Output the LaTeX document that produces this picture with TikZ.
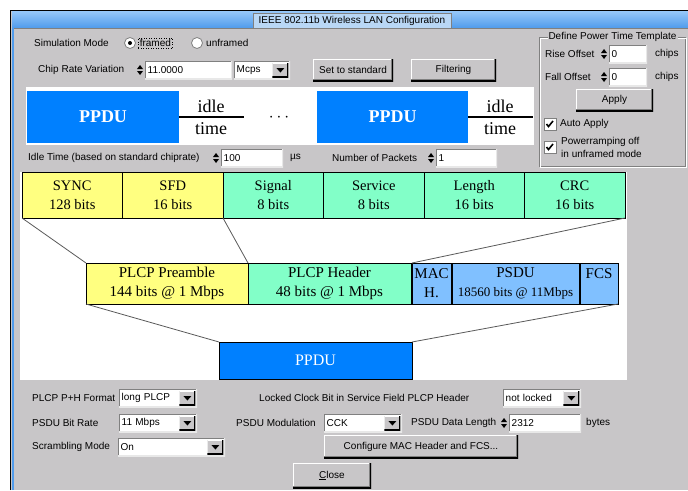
\documentclass[tikz,border=0pt]{standalone}
\usepackage{fontspec}
\setmainfont{Liberation Serif}
\setsansfont{Liberation Sans}
\usepackage{tikz}
\usetikzlibrary{calc}

\definecolor{wingray}{RGB}{200,198,200}
\definecolor{wdark}{RGB}{128,128,128}
\definecolor{wlight}{RGB}{232,232,232}
\definecolor{titletop}{RGB}{150,200,250}
\definecolor{titlebot}{RGB}{80,155,235}
\definecolor{titlebox}{RGB}{185,215,245}
\definecolor{ppdublue}{RGB}{0,128,255}
\definecolor{yell}{RGB}{255,255,128}
\definecolor{mint}{RGB}{130,255,200}
\definecolor{lblue}{RGB}{128,192,255}
\definecolor{linegray}{RGB}{90,90,90}

\newcommand{\guifont}{\sffamily\fontsize{10}{12}\selectfont}

\tikzset{
  lbl/.style={font=\guifont, inner sep=0pt, anchor=west},
  field/.style={font=\guifont, fill=white, anchor=west, align=left, inner xsep=2.5pt, inner ysep=0pt, minimum height=18pt,
    path picture={
      \draw[wdark, line width=2pt] (path picture bounding box.south west) |- (path picture bounding box.north east);
      \draw[wlight, line width=2pt] (path picture bounding box.south west) -| (path picture bounding box.north east);}},
  button/.style={font=\guifont, fill=wingray, inner sep=0pt,
    path picture={
      \draw[white, line width=2.4pt] (path picture bounding box.south west) |- (path picture bounding box.north east);
      \draw[wdark, line width=4pt] (path picture bounding box.south west) -| (path picture bounding box.north east);
      \draw[black, line width=2pt] (path picture bounding box.south west) -| (path picture bounding box.north east);}},
  arrbtn/.style={fill=wingray, minimum width=16pt, minimum height=14pt, inner sep=0pt,
    path picture={
      \draw[white, line width=2pt] (path picture bounding box.south west) |- (path picture bounding box.north east);
      \draw[black, line width=2pt] (path picture bounding box.south west) -| (path picture bounding box.north east);
      \fill[black] (path picture bounding box.center) ++(-4pt,2pt) -- ++(8pt,0pt) -- ++(-4pt,-4.5pt) -- cycle;}},
  spin/.style={fill=wingray, minimum width=8pt, minimum height=17pt, inner sep=0pt,
    path picture={
      \fill[black] (path picture bounding box.center) ++(-3pt,1pt) -- ++(6pt,0pt) -- ++(-3pt,4pt) -- cycle;
      \fill[black] (path picture bounding box.center) ++(-3pt,-1pt) -- ++(6pt,0pt) -- ++(-3pt,-4pt) -- cycle;}},
  radio/.style={circle, fill=white, draw=wdark, line width=0.8pt, minimum size=11pt, inner sep=0pt},
  radioon/.style={radio, path picture={\fill[black] (path picture bounding box.center) circle (2pt);}},
  chk/.style={fill=white, draw=wdark, line width=0.8pt, minimum size=12pt, inner sep=0pt,
    path picture={\draw[black, line width=1.6pt] (path picture bounding box.center) ++(-3.5pt,0pt) -- ++(2pt,-2.5pt) -- ++(4.5pt,5.5pt);}},
  bitbox/.style={draw=black, line width=0.8pt, inner sep=0pt, outer sep=0pt, align=center, font=\fontsize{14.5}{19}\selectfont},
  bitrow/.style={bitbox, minimum width=100.5pt, minimum height=46pt},
  plcprow/.style={bitbox, minimum height=41pt, font=\fontsize{15}{19}\selectfont},
  link/.style={draw=linegray, line width=0.8pt}
}

\begin{document}
\begin{tikzpicture}[x=1pt,y=-1pt]
\useasboundingbox (0,0) rectangle (688,490);
\fill[white] (0,0) rectangle (688,490);
\fill[wingray] (10,10) rectangle (688,490);
\shade[top color=titletop, bottom color=titlebot] (12,11) rectangle (688,28);
\draw[black, line width=1pt] (10.5,490) -- (10.5,10.5) -- (688,10.5);
\draw[titlebot, line width=2pt] (12.5,490) -- (12.5,28);
\draw[wdark, line width=0.8pt] (14,28.5) -- (688,28.5);
\node[font=\guifont, fill=titlebox, draw=wdark, line width=0.5pt, minimum width=198pt, minimum height=15pt, inner sep=0pt] (title) at (352,20.5) {IEEE 802.11b Wireless LAN Configuration};

\node[lbl] (simmode) at (34,43) {Simulation Mode};
\node[radioon] (radfr) at (130,43) {};
\node[lbl, draw, dotted, line width=0.5pt, inner sep=1.5pt] (framed) at (138,43) {framed};
\node[radio] (radunfr) at (197,43) {};
\node[lbl] (unframed) at (206,43) {unframed};

\node[lbl] (chiplbl) at (38,70) {Chip Rate Variation};
\node[spin] (chipspin) at (140,70) {};
\node[field, text width=82pt] (chip) at (145,70) {11.0000};
\node[field, text width=51pt] (mcps) at (234,70) {Mcps};
\node[arrbtn] (mcpsarr) at ([xshift=-10pt]mcps.east) {};
\node[button, minimum width=80pt, minimum height=22pt] (setstd) at (353,70) {Set to standard};
\node[button, minimum width=85pt, minimum height=22pt] (filter) at (453.5,70) {Filtering};

\draw[wdark] (539,37) rectangle (685,166);
\draw[white] (540,38) rectangle (686,167);
\node[font=\guifont, fill=wingray, inner xsep=1pt, inner ysep=0pt] (pttlbl) at (612.5,37) {Define Power Time Template};
\node[lbl] (riselbl) at (545,54) {Rise Offset};
\node[spin] (risespin) at (604,54) {};
\node[field, text width=33pt] (rise) at (609,54) {0};
\node[lbl] (risechips) at (655,54) {chips};
\node[lbl] (falllbl) at (545,77) {Fall Offset};
\node[spin] (fallspin) at (604,77) {};
\node[field, text width=33pt] (fall) at (609,77) {0};
\node[lbl] (fallchips) at (655,77) {chips};
\node[button, minimum width=77pt, minimum height=22pt] (apply) at (614.5,100) {Apply};
\node[chk] (autochk) at (550,124) {};
\node[lbl] (autoapply) at (560,124) {Auto Apply};
\node[chk] (rampchk) at (550,147) {};
\node[lbl, align=left, font=\sffamily\fontsize{10}{13}\selectfont] (ramp) at (561,147) {Powerramping off\\in unframed mode};

\fill[white] (26,87) rectangle (534,145);
\node[fill=ppdublue, minimum width=152pt, minimum height=52pt, text=white, font=\bfseries\fontsize{18}{20}\selectfont] (ppdua) at (103,117) {PPDU};
\node[fill=ppdublue, minimum width=151pt, minimum height=52pt, text=white, font=\bfseries\fontsize{18}{20}\selectfont] (ppdub) at (392.5,117) {PPDU};
\draw[line width=1.6pt] (ppdua.east) -- +(65,0);
\draw[line width=1.6pt] (ppdub.east) -- +(65,0);
\node[font=\fontsize{18}{20}\selectfont] (idlea) at (211,106) {idle};
\node[font=\fontsize{18}{20}\selectfont] (timea) at (211,129) {time};
\node[font=\fontsize{18}{20}\selectfont] (dots) at (279,118) {$\cdots$};
\node[font=\fontsize{18}{20}\selectfont] (idleb) at (500,106) {idle};
\node[font=\fontsize{18}{20}\selectfont] (timeb) at (500,129) {time};

\node[lbl] (idlelbl) at (28,158) {Idle Time (based on standard chiprate)};
\node[spin] (idlespin) at (216,158) {};
\node[field, text width=57pt] (idle) at (221,158) {100};
\node[lbl] (us) at (290,158) {µs};
\node[lbl] (pktlbl) at (332,158) {Number of Packets};
\node[spin] (pktspin) at (431,158) {};
\node[field, text width=56pt] (pkt) at (436,158) {1};

\fill[white] (20,172) rectangle (627,380);
\node[bitrow, fill=yell] (sync) at (72.25,195) {SYNC\\128 bits};
\node[bitrow, fill=yell] (sfd) at (172.75,195) {SFD\\16 bits};
\node[bitrow, fill=mint] (signal) at (273.25,195) {Signal\\8 bits};
\node[bitrow, fill=mint] (service) at (373.75,195) {Service\\8 bits};
\node[bitrow, fill=mint] (length) at (474.25,195) {Length\\16 bits};
\node[bitrow, fill=mint] (crc) at (574.75,195) {CRC\\16 bits};

\node[plcprow, fill=yell, minimum width=162pt] (preamble) at (167,283.5) {PLCP Preamble\\144 bits @ 1 Mbps};
\node[plcprow, fill=mint, minimum width=163pt] (header) at (329.5,283.5) {PLCP Header\\48 bits @ 1 Mbps};
\node[plcprow, fill=lblue, minimum width=39pt] (mac) at (431.5,283.5) {MAC\\H.};
\node[plcprow, fill=lblue, minimum width=127pt] (psdu) at (515.5,283.5) {PSDU\\{\fontsize{13}{19}\selectfont 18560 bits @ 11Mbps}};
\node[plcprow, fill=lblue, minimum width=38pt] (fcs) at (599,283.5) {FCS\\~};
\node[bitbox, fill=ppdublue, minimum width=193pt, minimum height=37pt, text=white, font=\fontsize{16}{19}\selectfont] (ppdu) at (315.5,360.5) {PPDU};

\draw[link] (sync.south west) -- (preamble.north west);
\draw[link] (sfd.south east) -- (header.north west);
\draw[link] (crc.south east) -- (mac.north west);
\draw[link] (preamble.south west) -- (ppdu.north west);
\draw[link] (fcs.south east) -- (ppdu.north east);

\node[lbl] (fmtlbl) at (32,398) {PLCP P+H Format};
\node[field, text width=73pt] (fmt) at (119,398) {long PLCP};
\node[arrbtn] (fmtarr) at ([xshift=-10pt]fmt.east) {};
\node[lbl] (lockedlbl) at (259,398) {Locked Clock Bit in Service Field PLCP Header};
\node[field, text width=73pt] (locked) at (503,398) {not locked};
\node[arrbtn] (lockedarr) at ([xshift=-10pt]locked.east) {};

\node[lbl] (ratelbl) at (32,423) {PSDU Bit Rate};
\node[field, text width=73pt] (rate) at (119,423) {11 Mbps};
\node[arrbtn] (ratearr) at ([xshift=-10pt]rate.east) {};
\node[lbl] (modlbl) at (236,423) {PSDU Modulation};
\node[field, text width=73pt] (mod) at (324,423) {CCK};
\node[arrbtn] (modarr) at ([xshift=-10pt]mod.east) {};
\node[lbl] (lenlbl) at (411,423) {PSDU Data Length};
\node[spin] (lenspin) at (504,423) {};
\node[field, text width=67pt] (len) at (509,423) {2312};
\node[lbl] (bytes) at (586,423) {bytes};

\node[lbl] (scramlbl) at (32,447) {Scrambling Mode};
\node[field, text width=102pt] (scram) at (118,447) {On};
\node[arrbtn] (scramarr) at ([xshift=-10pt]scram.east) {};
\node[button, minimum width=194pt, minimum height=23pt] (cfgmac) at (421,446.5) {Configure MAC Header and FCS...};
\node[button, minimum width=78pt, minimum height=25pt] (close) at (332,475.5) {\underline{C}lose};
\end{tikzpicture}
\end{document}
